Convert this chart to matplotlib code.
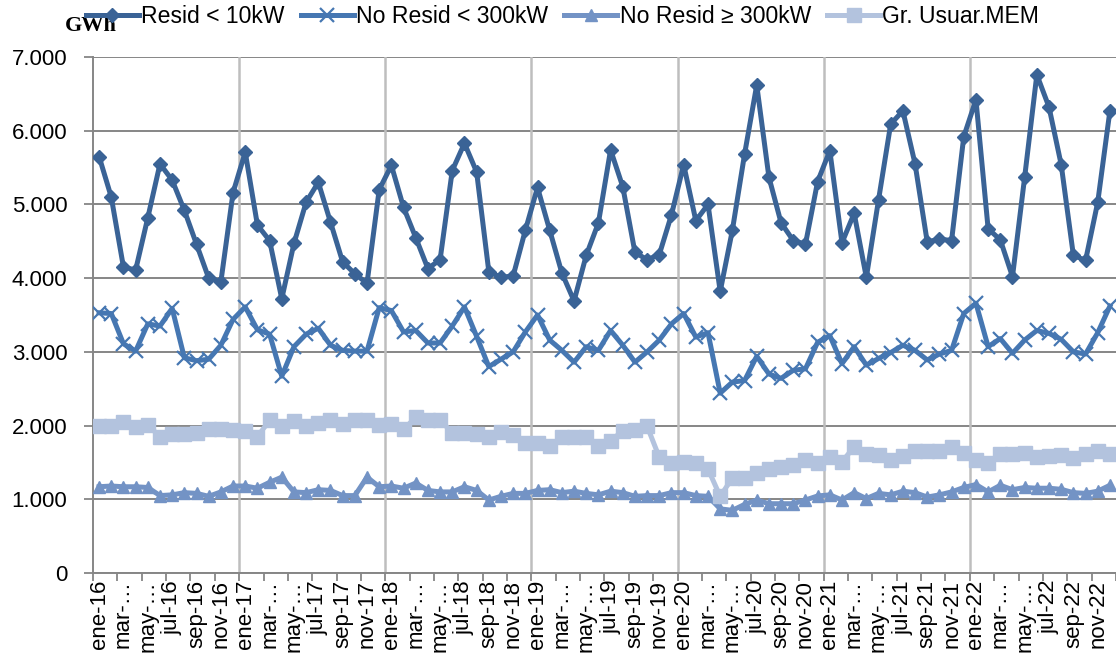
import matplotlib

matplotlib.use("Agg")
import matplotlib.pyplot as plt
from matplotlib.ticker import FixedLocator, FuncFormatter

plt.rcParams["font.family"] = ["Liberation Sans", "DejaVu Sans"]

MONTHS = ["ene", "feb", "mar", "abr", "may", "jun", "jul", "ago", "sep", "oct", "nov", "dic"]
YEARS = ["16", "17", "18", "19", "20", "21", "22"]

resid_10kw = [
    5650, 5100, 4150, 4110, 4820, 5550, 5330, 4920, 4460, 4000, 3950, 5160,
    5710, 4720, 4510, 3720, 4470, 5030, 5300, 4760, 4220, 4060, 3930, 5200,
    5530, 4960, 4550, 4130, 4250, 5460, 5830, 5440, 4090, 4010, 4030, 4650,
    5230, 4650, 4070, 3690, 4310, 4750, 5740, 5240, 4350, 4250, 4320, 4860,
    5540, 4780, 5000, 3820, 4650, 5680, 6620, 5370, 4750, 4510, 4460, 5310,
    5730, 4480, 4880, 4010, 5060, 6090, 6270, 5550, 4490, 4530, 4510, 5920,
    6420, 4670, 4520, 4020, 5370, 6760, 6320, 5540, 4310, 4240, 5030, 6270,
]
no_resid_300kw = [
    3530, 3520, 3110, 3010, 3380, 3350, 3590, 2920, 2880, 2900, 3090, 3440,
    3610, 3300, 3240, 2670, 3070, 3240, 3320, 3090, 3020, 3010, 3010, 3600,
    3560, 3270, 3290, 3120, 3120, 3350, 3610, 3210, 2800, 2900, 3000, 3270,
    3500, 3160, 3020, 2860, 3070, 3020, 3290, 3090, 2860, 3000, 3160, 3380,
    3520, 3200, 3260, 2440, 2590, 2610, 2940, 2700, 2640, 2750, 2770, 3130,
    3220, 2840, 3070, 2820, 2910, 2990, 3090, 3020, 2890, 2970, 3020, 3520,
    3660, 3070, 3180, 2980, 3160, 3290, 3250, 3170, 3000, 2970, 3260, 3620,
]
no_resid_ge300kw = [
    1170, 1180, 1170, 1170, 1160, 1050, 1060, 1090, 1080, 1040, 1100, 1180,
    1180, 1150, 1230, 1300, 1100, 1090, 1130, 1120, 1050, 1050, 1300, 1170,
    1180, 1150, 1220, 1120, 1100, 1100, 1170, 1120, 990, 1040, 1080, 1080,
    1120, 1130, 1090, 1110, 1080, 1060, 1110, 1090, 1040, 1050, 1050, 1090,
    1090, 1050, 1040, 870, 850, 930, 990, 940, 940, 940, 990, 1045,
    1060, 990, 1090, 1010, 1080, 1060, 1110, 1090, 1030, 1060, 1100, 1160,
    1200, 1100, 1190, 1130, 1160, 1150, 1150, 1135, 1090, 1080, 1110, 1190,
]
gr_usuar_mem = [
    2000, 2000, 2050, 1980, 2010, 1850, 1890, 1890, 1900, 1960, 1960, 1940,
    1930, 1850, 2070, 1990, 2060, 1990, 2040, 2070, 2020, 2070, 2070, 2010,
    2020, 1950, 2110, 2070, 2080, 1900, 1900, 1890, 1850, 1910, 1870, 1760,
    1770, 1720, 1840, 1840, 1840, 1720, 1790, 1930, 1940, 1990, 1570, 1490,
    1500, 1490, 1410, 1040, 1290, 1290, 1360, 1410, 1440, 1460, 1530, 1490,
    1570, 1510, 1710, 1610, 1600, 1530, 1590, 1660, 1650, 1660, 1710, 1630,
    1530, 1490, 1610, 1620, 1630, 1580, 1590, 1600, 1560, 1610, 1660, 1620,
]

series_names = ["Resid < 10kW", "No Resid < 300kW", "No Resid \u2265 300kW", "Gr. Usuar.MEM"]
series_colors = ["#3A6396", "#4677B2", "#7393C5", "#B3C3DE"]

labels = [f"{m}-{y}" for y in YEARS for m in MONTHS]
x = list(range(len(labels)))

fig = plt.figure(figsize=(11.16, 6.68), dpi=100)
ax = fig.add_axes([93 / 1116, 95 / 668, 1 - 93 / 1116, 516 / 668])

LW = 3.6
ax.plot(x, resid_10kw, color=series_colors[0], lw=LW, marker="D", ms=7.5,
        label=series_names[0], zorder=3)
ax.plot(x, no_resid_300kw, color=series_colors[1], lw=LW, marker="x", ms=9.5,
        mew=1.6, label=series_names[1], zorder=3)
ax.plot(x, no_resid_ge300kw, color=series_colors[2], lw=LW, marker="^", ms=9,
        label=series_names[2], zorder=3)
ax.plot(x, gr_usuar_mem, color=series_colors[3], lw=LW, marker="s", ms=9.5,
        label=series_names[3], zorder=3)

ax.set_xlim(-0.5, len(x) - 0.5)
ax.set_ylim(0, 7000)

# y axis
ax.set_yticks(range(0, 7001, 1000))
ax.yaxis.set_major_formatter(FuncFormatter(lambda v, p: f"{int(v):,}".replace(",", ".")))
ax.tick_params(axis="y", length=6.5, width=1.3, color="#868686", labelsize=16, pad=12)
ax.yaxis.grid(True, color="#868686", lw=1.4)

# x axis: labels every two months at category centres, ticks at boundaries
def short(lbl):
    return lbl[:4] + "\u2026" if lbl[:3] in ("mar", "may") else lbl

ax.set_xticks(x[::2])
ax.set_xticklabels([short(l) for l in labels[::2]], rotation=90, fontsize=16)
ax.tick_params(axis="x", which="major", length=0, pad=5)
ax.xaxis.set_minor_locator(FixedLocator([i - 0.5 for i in range(0, len(x) + 1, 2)]))
ax.tick_params(axis="x", which="minor", length=6, width=1.3, color="#868686")

for b in range(12, len(x), 12):
    ax.axvline(b - 0.5, color="#BEBEBE", lw=1.8, zorder=1)

ax.set_axisbelow(True)
for s in ("top", "right"):
    ax.spines[s].set_visible(False)
for s in ("left", "bottom"):
    ax.spines[s].set_color("#868686")
    ax.spines[s].set_linewidth(1.4)

fig.legend(loc="center", bbox_to_anchor=(0.504, 0.975), ncol=4, frameon=False,
           fontsize=16.6, handlelength=2.3, handletextpad=0.1, columnspacing=0.7)

fig.text(65 / 1116, 1 - 26 / 668, "GWh", family="Liberation Serif", fontweight="bold",
         fontsize=16, ha="left", va="center", zorder=0)

fig.savefig("out.png", dpi=100, facecolor="white")
